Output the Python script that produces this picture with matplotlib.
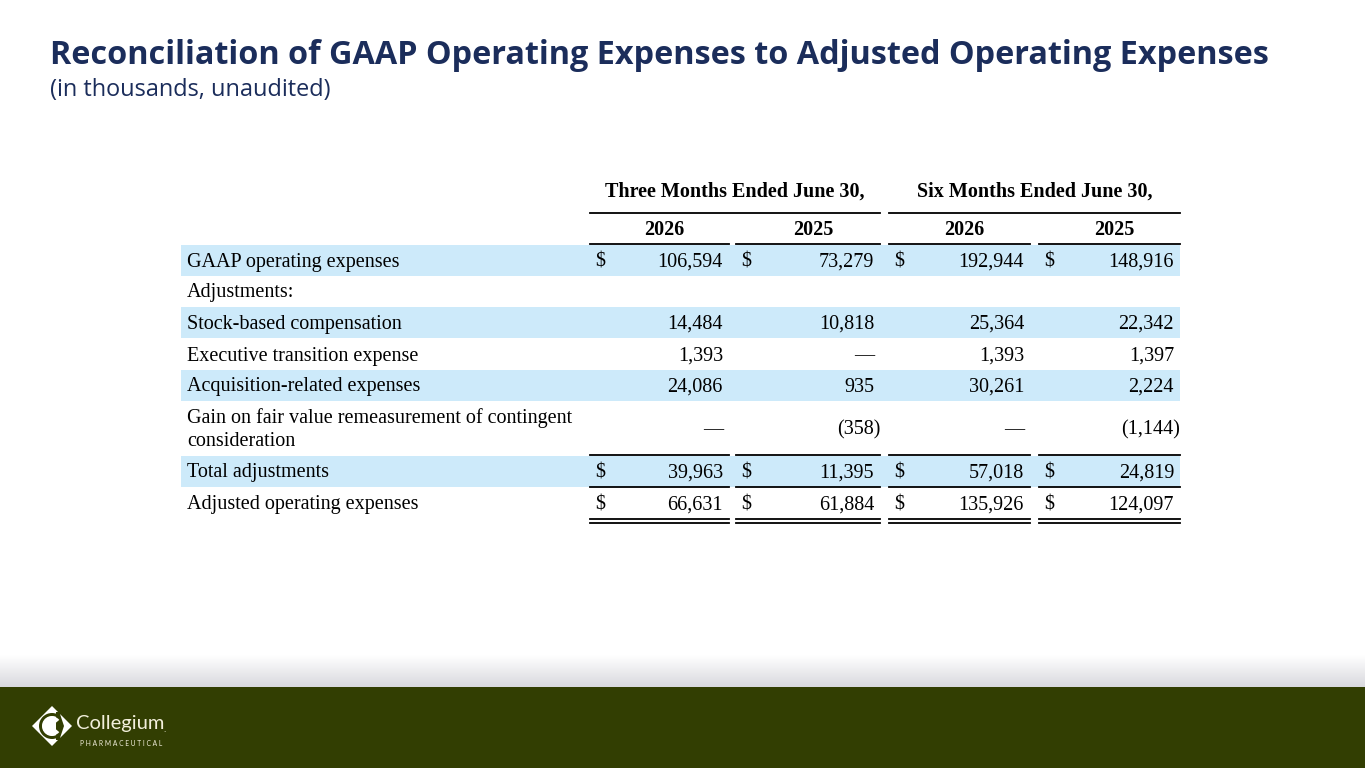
import matplotlib
matplotlib.use("Agg")
import matplotlib.pyplot as plt
import numpy as np
from matplotlib.patches import Rectangle, Polygon, Wedge

# ---------------- data ----------------
title = "Reconciliation of GAAP Operating Expenses to Adjusted Operating Expenses"
subtitle = "(in thousands, unaudited)"
period_headers = ["Three Months Ended June 30,", "Six Months Ended June 30,"]
years = ["2026", "2025", "2026", "2025"]

row_labels = [
    "GAAP operating expenses",
    "Adjustments:",
    "Stock-based compensation",
    "Executive transition expense",
    "Acquisition-related expenses",
    "Gain on fair value remeasurement of contingent\nconsideration",
    "Total adjustments",
    "Adjusted operating expenses",
]
q2_2026 = [106594, None, 14484, 1393, 24086, 0, 39963, 66631]
q2_2025 = [73279, None, 10818, 0, 935, -358, 11395, 61884]
h1_2026 = [192944, None, 25364, 1393, 30261, 0, 57018, 135926]
h1_2025 = [148916, None, 22342, 1397, 2224, -1144, 24819, 124097]
dollar_rows = [0, 6, 7]
shaded_rows = [0, 2, 4, 6]

# ---------------- layout ----------------
W, H = 1365, 768
fig = plt.figure(figsize=(W / 100, H / 100), dpi=100)
ax = fig.add_axes([0, 0, 1, 1])
ax.set_xlim(0, W)
ax.set_ylim(H, 0)
ax.axis("off")

navy = "#1b2d5b"
shade = "#cdeafa"
serif = ["Liberation Serif", "DejaVu Serif"]
sans = ["Open Sans", "DejaVu Sans"]

ax.text(50, 55, title, fontsize=23.3, fontweight="bold", color=navy,
        family=sans, va="center", ha="left")
ax.text(50, 90, subtitle, fontsize=16.9, color=navy, family=sans,
        va="center", ha="left")

cols = [(590, 729), (736, 880), (889, 1030), (1039, 1180)]
tab_left, tab_right = 181, 1180
row_y = [260, 291, 322, 354, 385, 428, 471, 503]
row_h = [31, 31, 31, 31, 31, 54, 31, 31]
fs = 14.5
dy = 2  # small baseline correction for va=center

# header
ax.text((cols[0][0] + cols[1][1]) / 2, 190 + dy, period_headers[0], fontsize=fs,
        fontweight="bold", family=serif, ha="center", va="center")
ax.text((cols[2][0] + cols[3][1]) / 2, 190 + dy, period_headers[1], fontsize=fs,
        fontweight="bold", family=serif, ha="center", va="center")
ax.plot([cols[0][0], cols[1][1]], [213, 213], color="black", lw=1.3)
ax.plot([cols[2][0], cols[3][1]], [213, 213], color="black", lw=1.3)
for (x0, x1), yr in zip(cols, years):
    ax.text((x0 + x1) / 2 + 5, 228 + dy, yr, fontsize=fs, fontweight="bold",
            family=serif, ha="center", va="center")
    ax.plot([x0, x1], [243.5, 243.5], color="black", lw=1.3)

# shaded bands
for r in shaded_rows:
    ax.add_patch(Rectangle((tab_left, row_y[r] - row_h[r] / 2), tab_right - tab_left,
                           row_h[r], color=shade, lw=0, zorder=0))


def fmt(v):
    if v is None:
        return ""
    if v == 0:
        return "\u2014"
    if v < 0:
        return "({:,})".format(-v)
    return "{:,}".format(v)


series = [q2_2026, q2_2025, h1_2026, h1_2025]
for r, lab in enumerate(row_labels):
    y = row_y[r] + dy
    if "\n" in lab:
        l1, l2 = lab.split("\n")
        ax.text(187, y - 12, l1, fontsize=fs, family=serif, ha="left", va="center")
        ax.text(187, y + 12, l2, fontsize=fs, family=serif, ha="left", va="center")
    else:
        ax.text(187, y, lab, fontsize=fs, family=serif, ha="left", va="center")
    for c, (x0, x1) in enumerate(cols):
        v = series[c][r]
        s = fmt(v)
        if not s:
            continue
        xr = x1 - 6
        if v is not None and v < 0:
            xr = x1 + 0
        ax.text(xr, y, s, fontsize=fs, family=serif, ha="right", va="center")
        if r in dollar_rows:
            ax.text(x0 + 5, y, "$", fontsize=fs, family=serif, ha="left", va="center")

# rules around totals
for (x0, x1) in cols:
    ax.plot([x0, x1], [455, 455], color="black", lw=1.3)
    ax.plot([x0, x1], [487, 487], color="black", lw=1.3)
    ax.plot([x0, x1], [519, 519], color="black", lw=1.3)
    ax.plot([x0, x1], [523, 523], color="black", lw=1.3)

# footer gradient + band
grad = np.linspace(0, 1, 64).reshape(-1, 1)
top = np.array([1.0, 1.0, 1.0])
bot = np.array([0.85, 0.85, 0.87])
img = top + (bot - top) * grad[..., None]
img = np.repeat(img, 2, axis=1)
ax.imshow(img, extent=[0, W, 687, 655], aspect="auto", zorder=0,
          interpolation="bilinear")
green = "#323e02"
ax.add_patch(Rectangle((0, 687), W, H - 687, color=green, lw=0, zorder=1))

# logo
cx, cy = 52, 726
d = 20
ax.add_patch(Polygon([[cx - d, cy], [cx, cy - d], [cx + d, cy], [cx, cy + d]],
                     closed=True, color="white", lw=0, zorder=2))
ax.add_patch(Wedge((cx, cy), 13, 0, 360, width=3, color=green, lw=0, zorder=3))
ax.add_patch(Wedge((cx, cy), 9.5, 40, 320, width=4.5, color="white", lw=0, zorder=4))
ax.add_patch(Polygon([[cx + 4, cy - 14], [cx + 22, cy - 14], [cx + 22, cy + 14],
                      [cx + 4, cy + 14]], closed=True, color=green, lw=0, zorder=3.5))
ax.add_patch(Polygon([[cx + 8, cy - 12], [cx + d, cy], [cx + 8, cy + 12], [cx + 12, cy]],
                     closed=True, color="white", lw=0, zorder=4))
ax.text(76, 724, "Collegium", fontsize=14.5, color="#f2efdc", family=["Lato", "DejaVu Sans"],
        ha="left", va="center", zorder=5)
ax.text(163, 730, ".", fontsize=7, color="#f2efdc", family=["Lato", "DejaVu Sans"],
        ha="left", va="center", zorder=5)
ax.text(121, 743, " ".join("PHARMACEUTICAL"), fontsize=4.8, color="#f2efdc",
        family=["Lato", "DejaVu Sans"], ha="center", va="center", zorder=5)

fig.savefig("out.png", dpi=100)
